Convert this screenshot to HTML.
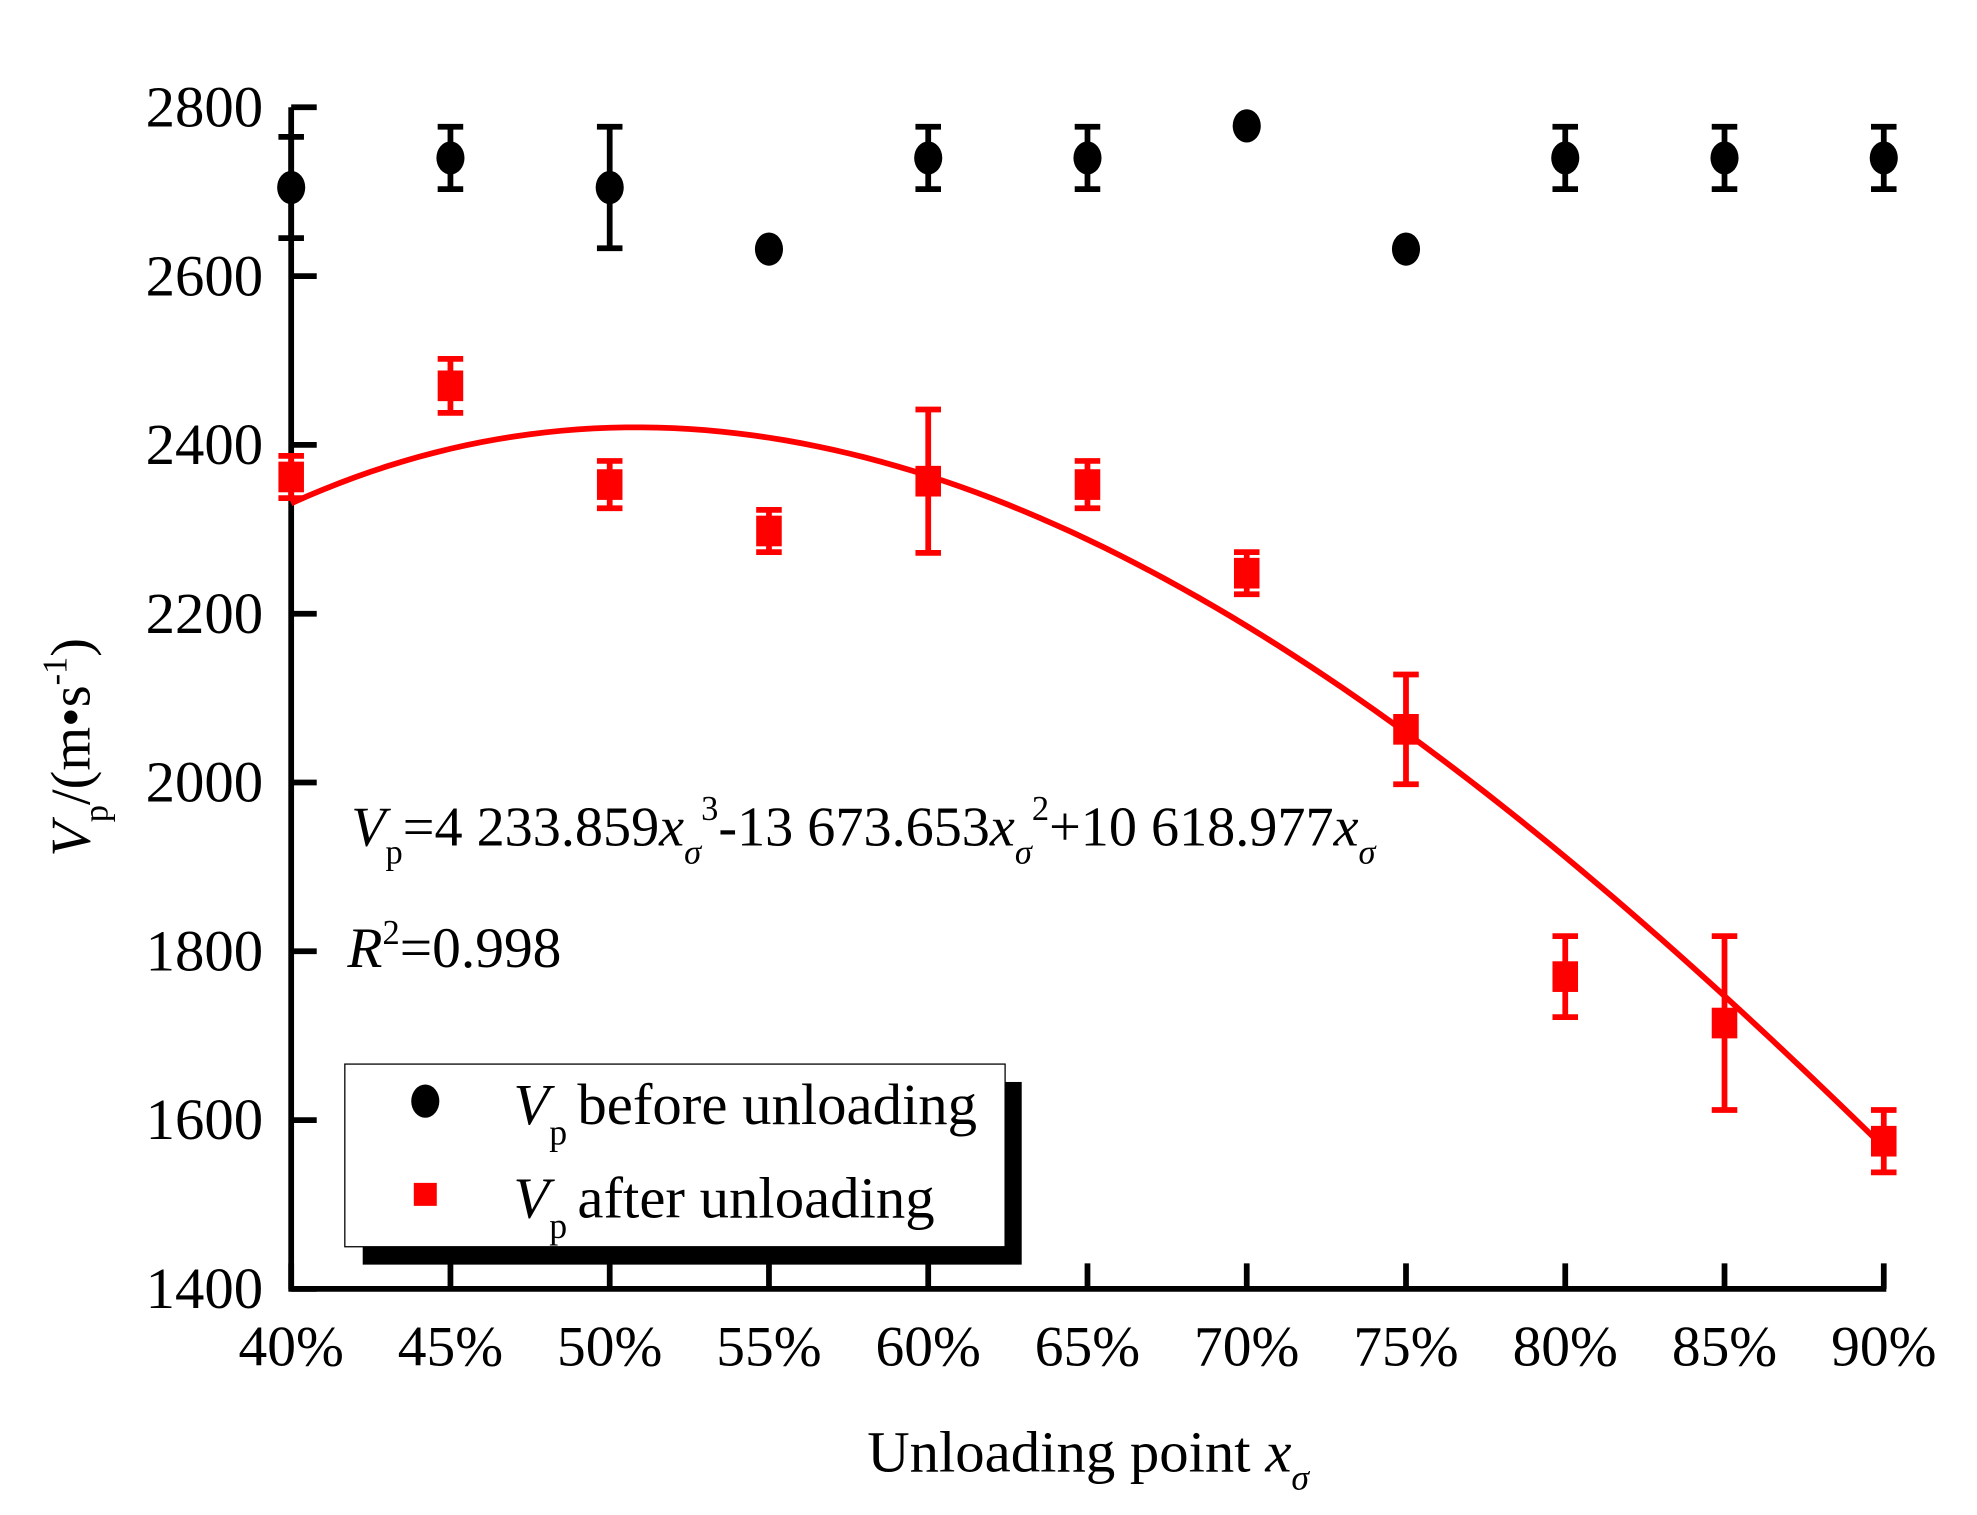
<!DOCTYPE html>
<html><head><meta charset="utf-8"><style>
html,body{margin:0;padding:0;background:#fff;}
svg{display:block;}
text{font-family:"Liberation Serif",serif;fill:#000;}
</style></head><body>
<svg id="chart" width="1977" height="1515" viewBox="0 0 1548 1186" preserveAspectRatio="none">
<g id="axes"></g>
<g id="marks"></g>
<text x="275" y="662" font-size="44"><tspan font-style="italic">V</tspan><tspan font-size="27" dy="14">p</tspan><tspan dy="-14">=4 233.859</tspan><tspan font-style="italic">x</tspan><tspan font-size="27" font-style="italic" dy="14">σ</tspan><tspan font-size="27" dy="-34">3</tspan><tspan dy="20">-13 673.653</tspan><tspan font-style="italic">x</tspan><tspan font-size="27" font-style="italic" dy="14">σ</tspan><tspan font-size="27" dy="-34">2</tspan><tspan dy="20">+10 618.977</tspan><tspan font-style="italic">x</tspan><tspan font-size="27" font-style="italic" dy="14">σ</tspan></text>
<text x="272" y="757" font-size="45"><tspan font-style="italic">R</tspan><tspan font-size="27" dy="-18">2</tspan><tspan dy="18">=0.998</tspan></text>
<g>
<rect x="284" y="847" width="516" height="143" fill="#000"/>
<rect x="270" y="833" width="517" height="143" fill="#fff" stroke="#000" stroke-width="1"/>
<g>
<ellipse cx="333" cy="862" rx="11" ry="13" fill="#000"/>
<text x="402" y="880" font-size="46"><tspan font-style="italic">V</tspan><tspan font-size="28" dy="16">p</tspan><tspan dy="-16" dx="8">before unloading</tspan></text>
</g>
<g>
<rect x="324" y="926" width="18" height="18" fill="#f00"/>
<text x="402" y="953" font-size="46"><tspan font-style="italic">V</tspan><tspan font-size="28" dy="16">p</tspan><tspan dy="-16" dx="8">after unloading</tspan></text>
</g>
</g>
<text transform="translate(70,585) rotate(-90)" text-anchor="middle" font-size="44"><tspan font-style="italic">V</tspan><tspan font-size="27" dy="14">p</tspan><tspan dy="-14">/(m•s</tspan><tspan font-size="27" dy="-18">-1</tspan><tspan dy="18">)</tspan></text>
<text x="852" y="1152" text-anchor="middle" font-size="46">Unloading point <tspan font-style="italic">x</tspan><tspan font-size="28" font-style="italic" dy="14">σ</tspan></text>
</svg>
<script>
const categories=[0.40,0.45,0.50,0.55,0.60,0.65,0.70,0.75,0.80,0.85,0.90];
const xTickLabels=["40%","45%","50%","55%","60%","65%","70%","75%","80%","85%","90%"];
const yTicks=[1400,1600,1800,2000,2200,2400,2600,2800];
const beforeValues=[2705,2740,2705,2632,2740,2740,2778,2632,2740,2740,2740];
const beforeErr=[60,37,72,0,37,37,0,0,37,37,37];
const afterValues=[2362,2470,2353,2298,2357,2353,2248,2063,1770,1715,1575];
const afterErr=[25,32,28,25,85,28,25,65,48,103,37];
const fitCoeffs=[4233.859,-13673.653,10618.977];

const NS="http://www.w3.org/2000/svg";
const X0=228,X1=1475,Y0=1009,Y1=84;
function xs(v){return X0+(v-0.40)/(0.50)*(X1-X0);}
function ys(v){return Y0-(v-1400)/1400*(Y0-Y1);}
function mk(tag,attrs,parent){const e=document.createElementNS(NS,tag);for(const k in attrs)e.setAttribute(k,attrs[k]);parent.appendChild(e);return e;}
const axes=document.getElementById('axes'),marks=document.getElementById('marks');

let el=mk('line',{x1:X0,y1:Y1,x2:X0,y2:Y0+2,stroke:'#000','stroke-width':4.5},axes);


el=mk('line',{x1:X0-2,y1:Y0,x2:X1+2,y2:Y0,stroke:'#000','stroke-width':4.5},axes);


yTicks.forEach(t=>{
  const y=ys(t);
  const tk=mk('line',{x1:X0,y1:y,x2:X0+20,y2:y,stroke:'#000','stroke-width':4.5},axes);
  
  
  const lb=mk('text',{x:206,y:y+15,'text-anchor':'end','font-size':46},axes);
  lb.textContent=t;
  
  
});
categories.forEach((c,i)=>{
  const x=xs(c);
  const tk=mk('line',{x1:x,y1:Y0,x2:x,y2:Y0-20,stroke:'#000','stroke-width':4.5},axes);
  
  
  const lb=mk('text',{x:x,y:1069,'text-anchor':'middle','font-size':45},axes);
  lb.textContent=xTickLabels[i];
  
  
});
let d='';
for(let k=0;k<=100;k++){
  const v=0.40+k*0.005;
  const yv=fitCoeffs[0]*v*v*v+fitCoeffs[1]*v*v+fitCoeffs[2]*v;
  d+=(k?'L':'M')+xs(v).toFixed(2)+','+ys(yv).toFixed(2);
}
el=mk('path',{d:d,fill:'none',stroke:'#f00','stroke-width':4.5},marks);


function errbar(x,v,e,color,name){
  if(!e)return;
  const g=mk('g',{stroke:color,'stroke-width':4.5},marks);
  
  
  const yt=ys(v+e),yb=ys(v-e);
  mk('line',{x1:x,y1:yt,x2:x,y2:yb},g);
  mk('line',{x1:x-10,y1:yt,x2:x+10,y2:yt},g);
  mk('line',{x1:x-10,y1:yb,x2:x+10,y2:yb},g);
}
categories.forEach((c,i)=>{
  const x=xs(c);
  errbar(x,afterValues[i],afterErr[i],'#f00','after-error-bar');
  const r=mk('rect',{x:x-10,y:ys(afterValues[i])-12,width:20,height:24,fill:'#f00'},marks);
  
  
  errbar(x,beforeValues[i],beforeErr[i],'#000','before-error-bar');
  const p=mk('ellipse',{cx:x,cy:ys(beforeValues[i]),rx:11,ry:13,fill:'#000'},marks);
  
  
});
</script>
</body></html>
